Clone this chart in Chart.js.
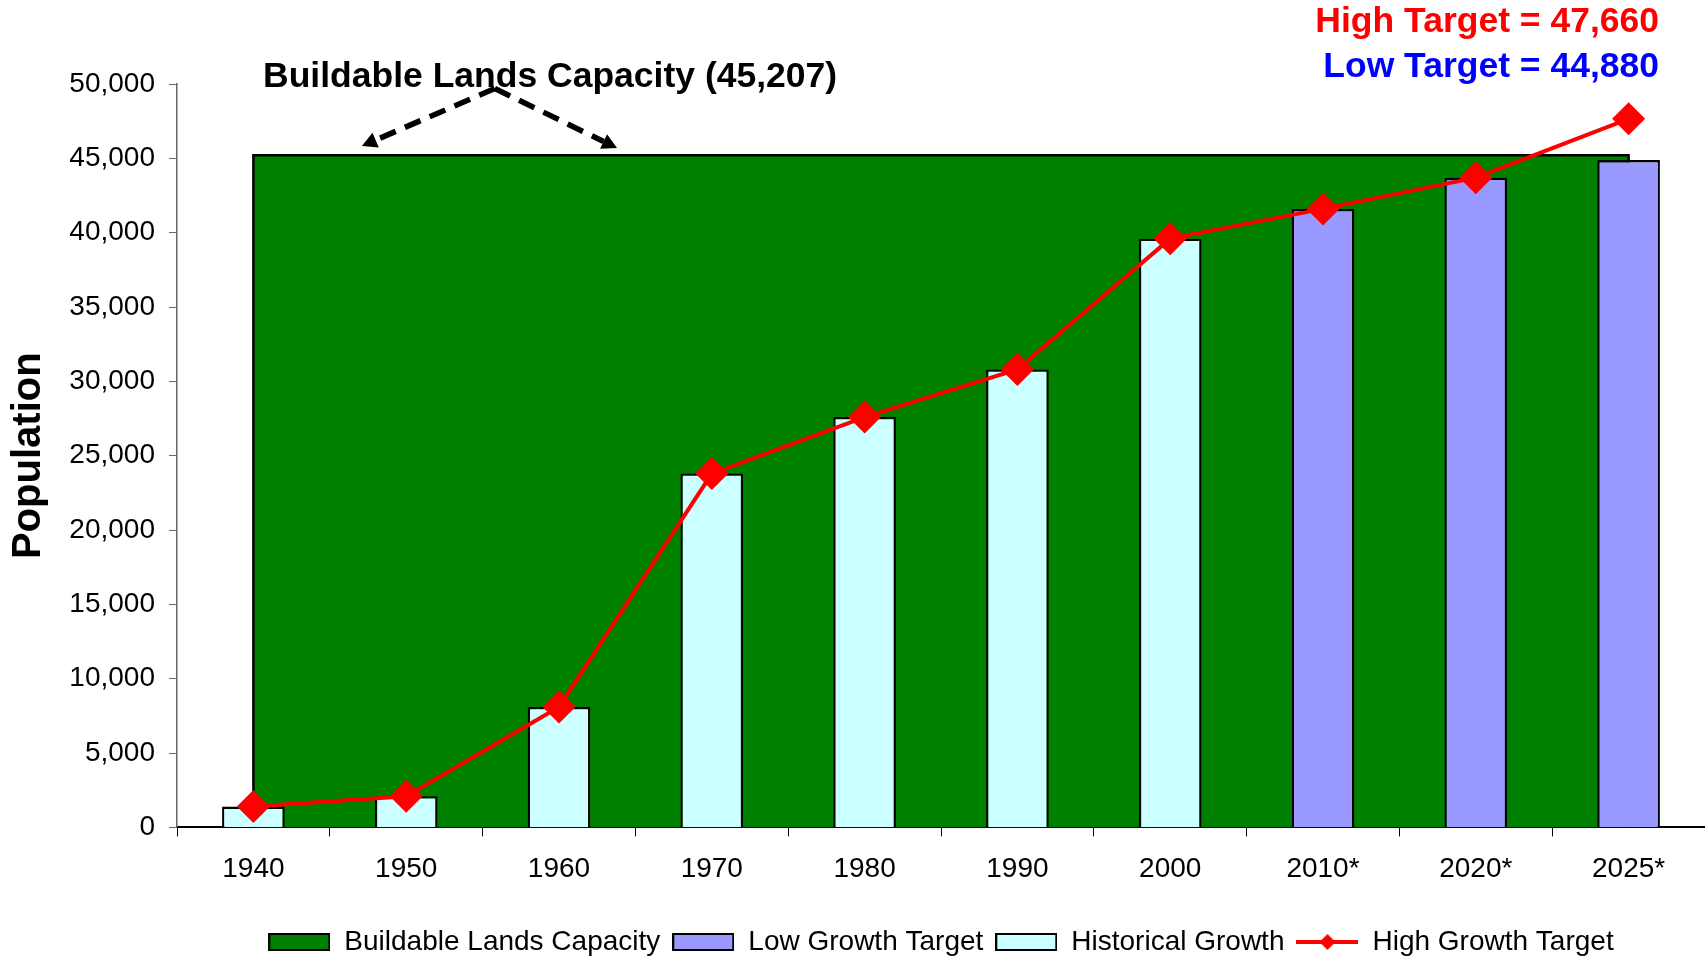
<!DOCTYPE html>
<html>
<head>
<meta charset="utf-8">
<script src="https://cdn.jsdelivr.net/npm/chart.js@4/dist/chart.umd.min.js"></script>
<style>
  html, body { margin: 0; padding: 0; background: #fff; overflow: hidden; }
  #wrap { width: 1705px; height: 960px; position: relative; }
</style>
</head>
<body>
<div id="wrap"><canvas id="chart-population"></canvas></div>
<script>
const years = ["1940", "1950", "1960", "1970", "1980", "1990", "2000", "2010*", "2020*", "2025*"];
const historicalGrowth = [1400, 2100, 8100, 23800, 27600, 30800, 39600, null, null, null];
const lowGrowthTarget = [null, null, null, null, null, null, null, 41600, 43700, 44880];
const highGrowthTarget = [1400, 2100, 8100, 23800, 27600, 30800, 39600, 41600, 43700, 47660];
const buildableCapacity = 45207;
const yTicks = [0, 5000, 10000, 15000, 20000, 25000, 30000, 35000, 40000, 45000, 50000];

const FONT = "'Liberation Sans', Arial, sans-serif";

// green block from the first to the last category
const capacityOutline = [
  { x: years[0], y: 0 },
  { x: years[0], y: buildableCapacity },
  { x: years[years.length - 1], y: buildableCapacity },
  { x: years[years.length - 1], y: 0 },
];

function makeIcon(fill, isLine) {
  const c = document.createElement("canvas");
  c.width = 62;
  c.height = 20;
  const g = c.getContext("2d");
  if (isLine) {
    g.strokeStyle = "#FF0000";
    g.lineWidth = 4;
    g.beginPath();
    g.moveTo(0, 10);
    g.lineTo(62, 10);
    g.stroke();
    g.fillStyle = "#FF0000";
    g.beginPath();
    g.moveTo(31, 2);
    g.lineTo(39, 10);
    g.lineTo(31, 18);
    g.lineTo(23, 10);
    g.closePath();
    g.fill();
  } else {
    g.fillStyle = fill;
    g.fillRect(1, 2, 60, 16);
    g.strokeStyle = "#000";
    g.lineWidth = 2;
    g.strokeRect(1, 2, 60, 16);
  }
  return c;
}

const annotations = {
  id: "annotations",
  afterDraw(chart) {
    const ctx = chart.ctx;
    const x = chart.scales.x;
    const y = chart.scales.y;
    ctx.save();

    ctx.font = "bold 35.5px " + FONT;
    ctx.textBaseline = "middle";
    ctx.fillStyle = "#000";
    ctx.textAlign = "left";
    ctx.fillText("Buildable Lands Capacity (45,207)", 263, 77);

    ctx.textAlign = "right";
    ctx.fillStyle = "#FF0000";
    ctx.fillText("High Target = 47,660", 1659, 22);
    ctx.fillStyle = "#0000FF";
    ctx.fillText("Low Target = 44,880", 1659, 67);

    // dashed arrows pointing down at the capacity block
    const apex = { x: x.getPixelForValue(1.58), y: y.getPixelForValue(49700) };
    const tips = [
      { x: x.getPixelForValue(0.71), y: y.getPixelForValue(45830) },
      { x: x.getPixelForValue(2.38), y: y.getPixelForValue(45690) },
    ];
    ctx.strokeStyle = "#000";
    ctx.fillStyle = "#000";
    ctx.lineWidth = 5.5;
    ctx.setLineDash([17, 10]);
    tips.forEach((tip) => {
      const ang = Math.atan2(tip.y - apex.y, tip.x - apex.x);
      const end = { x: tip.x - Math.cos(ang) * 15, y: tip.y - Math.sin(ang) * 15 };
      ctx.beginPath();
      ctx.moveTo(apex.x, apex.y);
      ctx.lineTo(end.x, end.y);
      ctx.stroke();
      ctx.beginPath();
      ctx.moveTo(tip.x, tip.y);
      ctx.lineTo(end.x + Math.cos(ang + Math.PI / 2) * 8, end.y + Math.sin(ang + Math.PI / 2) * 8);
      ctx.lineTo(end.x - Math.cos(ang + Math.PI / 2) * 8, end.y - Math.sin(ang + Math.PI / 2) * 8);
      ctx.closePath();
      ctx.fill();
    });
    ctx.restore();
  },
};

new Chart(document.getElementById("chart-population"), {
  type: "bar",
  data: {
    labels: years,
    datasets: [
      {
        type: "line",
        label: "Buildable Lands Capacity",
        data: capacityOutline,
        backgroundColor: "#008000",
        borderColor: "#000",
        borderWidth: 2.5,
        fill: "origin",
        pointRadius: 0,
        tension: 0,
        order: 3,
      },
      {
        label: "Low Growth Target",
        data: lowGrowthTarget,
        backgroundColor: "#9999FF",
        borderColor: "#000",
        borderWidth: 2.3,
        grouped: false,
        order: 2,
      },
      {
        label: "Historical Growth",
        data: historicalGrowth,
        backgroundColor: "#CCFFFF",
        borderColor: "#000",
        borderWidth: 2.3,
        grouped: false,
        order: 2,
      },
      {
        type: "line",
        label: "High Growth Target",
        data: highGrowthTarget,
        borderColor: "#FF0000",
        backgroundColor: "#FF0000",
        borderWidth: 4,
        pointStyle: "rectRot",
        pointRadius: 16.5,
        pointBorderWidth: 0,
        tension: 0,
        fill: false,
        clip: false,
        order: 1,
      },
    ],
  },
  options: {
    responsive: true,
    maintainAspectRatio: false,
    animation: false,
    layout: { autoPadding: false, padding: { top: 84, left: 0, right: 0, bottom: -6 } },
    datasets: {
      bar: { categoryPercentage: 1, barPercentage: 0.41 },
    },
    plugins: {
      tooltip: { enabled: false },
      legend: {
        position: "bottom",
        fullSize: false,
        labels: {
          color: "#000",
          font: { family: FONT, size: 28 },
          usePointStyle: true,
          pointStyleWidth: 62,
          boxHeight: 20,
          padding: 12,
          generateLabels: (chart) =>
            chart.data.datasets.map((ds, i) => ({
              text: ds.label,
              datasetIndex: i,
              hidden: false,
              fillStyle: "transparent",
              strokeStyle: "transparent",
              lineWidth: 0,
              fontColor: "#000",
              pointStyle: makeIcon(ds.backgroundColor, ds.type === "line" && i === 3),
            })),
        },
      },
    },
    scales: {
      x: {
        offset: true,
        afterFit: (scale) => {
          scale.paddingLeft = 0;
          scale.paddingRight = 0;
          scale.height += 14;
        },
        grid: {
          offset: true,
          drawOnChartArea: false,
          drawTicks: true,
          tickLength: 9,
          color: "#000",
        },
        border: { display: true, color: "#000", width: 2 },
        ticks: {
          color: "#000",
          font: { family: FONT, size: 28 },
          padding: 16,
          maxRotation: 0,
        },
      },
      y: {
        min: 0,
        max: 50000,
        afterBuildTicks: (scale) => {
          scale.ticks = yTicks.map((v) => ({ value: v }));
        },
        afterFit: (scale) => {
          scale.width = 177;
        },
        grid: {
          drawOnChartArea: false,
          drawTicks: true,
          tickLength: 8,
          color: "#666",
        },
        border: { display: true, color: "#666", width: 1.5 },
        ticks: {
          color: "#000",
          font: { family: FONT, size: 28 },
          padding: 14,
          callback: (value) => value.toLocaleString("en-US"),
        },
        title: {
          display: true,
          text: "Population",
          color: "#000",
          font: { family: FONT, size: 40, weight: "bold" },
          padding: { top: 5, bottom: 0 },
        },
      },
    },
  },
  plugins: [annotations],
});
</script>
</body>
</html>
